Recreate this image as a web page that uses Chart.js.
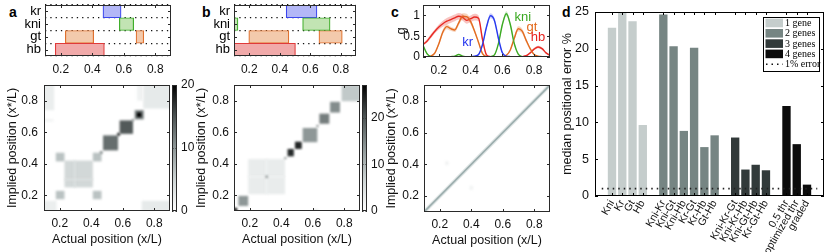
<!DOCTYPE html>
<html>
<head>
<meta charset="utf-8">
<script src="https://cdn.jsdelivr.net/npm/chart.js@4.4.0/dist/chart.umd.min.js"></script>
<style>
    body { margin: 0; background: #fff; }
    #fig { position: relative; width: 830px; height: 252px; overflow: hidden; }
    #fig canvas { position: absolute; left: 0; top: 0; }
    .lt { position: absolute; font: bold 14px "Liberation Sans", Arial, sans-serif; line-height: 16px; color: #000; }
</style>
</head>
<body>
<div id="fig">
    <div class="lt" style="left:9px;top:4px">a</div>
    <div class="lt" style="left:202px;top:4px">b</div>
    <div class="lt" style="left:391px;top:4px">c</div>
    <div class="lt" style="left:562px;top:4px">d</div>
</div>
<script>
// ---- data ----
const genes = ['kr', 'kni', 'gt', 'hb'];
const posTicks = [0.2, 0.4, 0.6, 0.8];

// expression domains [start, end] per gene (second segment where a gene has two)
const domainsA = [[0.468, 0.583], [0.572, 0.663], [0.229, 0.409], [0.165, 0.477]];
const domainsA2 = [null, null, [0.678, 0.727], null];
const domainsB = [[0.442, 0.644], [0.55, 0.73], [0.197, 0.46], [0.1, 0.503]];
const domainsB2 = [null, [0.1, 0.126], [0.657, 0.81], null];

// heat maps: [x0, x1, y0, y1, value]
const heatA = [
    [0.1, 0.165, 0.74, 0.9, 2], [0.73, 0.9, 0.75, 0.9, 2.5], [0.69, 0.73, 0.8, 0.9, 1.5],
    [0.1, 0.18, 0.1, 0.165, 2], [0.72, 0.9, 0.1, 0.165, 2.5], [0.1, 0.16, 0.668, 0.682, 1.5],
    [0.23, 0.41, 0.25, 0.42, 4.5], [0.29, 0.3, 0.25, 0.42, 3.3], [0.23, 0.41, 0.295, 0.305, 3.3],
    [0.175, 0.23, 0.415, 0.47, 6.5], [0.175, 0.23, 0.175, 0.228, 6.5],
    [0.41, 0.465, 0.415, 0.47, 6.5], [0.41, 0.465, 0.175, 0.228, 6.5],
    [0.455, 0.472, 0.463, 0.48, 11], [0.475, 0.57, 0.485, 0.58, 13],
    [0.565, 0.583, 0.578, 0.596, 18], [0.58, 0.665, 0.59, 0.675, 14.5],
    [0.66, 0.672, 0.672, 0.684, 12], [0.676, 0.733, 0.682, 0.74, 12], [0.69, 0.718, 0.697, 0.725, 20],
];
const heatB = [
    [0.1, 0.12, 0.1, 0.12, 27], [0.128, 0.19, 0.132, 0.196, 13.5],
    [0.19, 0.424, 0.207, 0.43, 3], [0.3, 0.312, 0.207, 0.43, 2], [0.19, 0.424, 0.31, 0.322, 2],
    [0.3, 0.315, 0.31, 0.325, 14], [0.42, 0.432, 0.43, 0.442, 16],
    [0.44, 0.48, 0.447, 0.494, 23.5], [0.487, 0.53, 0.494, 0.54, 24],
    [0.536, 0.629, 0.537, 0.627, 13.5], [0.624, 0.636, 0.634, 0.646, 17],
    [0.642, 0.705, 0.654, 0.718, 16], [0.71, 0.773, 0.725, 0.793, 14.5],
    [0.783, 0.9, 0.797, 0.9, 8], [0.61, 0.63, 0.1, 0.11, 5], [0.1, 0.106, 0.63, 0.65, 3],
];
const heatC = [[0.235, 0.255, 0.395, 0.42, 1.5], [0.39, 0.41, 0.24, 0.265, 1.5]];
const diagX = [0.1, 0.9];
const diagY = [0.1, 0.9];

// panel c: mean expression and spread along x/L
const cx = [0.1, 0.125, 0.15, 0.175, 0.2, 0.225, 0.25, 0.275, 0.3, 0.325, 0.35, 0.375, 0.4, 0.425, 0.45, 0.475, 0.5,
    0.525, 0.55, 0.575, 0.6, 0.625, 0.65, 0.675, 0.7, 0.725, 0.75, 0.775, 0.8, 0.825, 0.85, 0.875, 0.9];
const hbMean = [0.30, 0.38, 0.50, 0.62, 0.72, 0.80, 0.86, 0.90, 0.94, 0.98, 0.95, 0.88, 0.92, 0.96, 0.93, 0.42, 0.05,
    0.01, 0, 0, 0, 0, 0, 0, 0, 0.01, 0.03, 0.1, 0.19, 0.24, 0.2, 0.1, 0.04];
const hbErr = [0.03, 0.04, 0.05, 0.05, 0.06, 0.07, 0.08, 0.08, 0.08, 0.08, 0.08, 0.08, 0.08, 0.08, 0.07, 0.06, 0.02,
    0.01, 0, 0, 0, 0, 0, 0, 0, 0.01, 0.01, 0.02, 0.03, 0.03, 0.03, 0.02, 0.01];
const gtMean = [0, 0, 0.02, 0.1, 0.32, 0.6, 0.73, 0.68, 0.65, 0.82, 0.98, 0.97, 0.85, 0.62, 0.35, 0.08, 0.01,
    0, 0, 0, 0.01, 0.04, 0.17, 0.45, 0.68, 0.62, 0.4, 0.2, 0.06, 0.02, 0.01, 0, 0];
const gtErr = [0, 0, 0.01, 0.02, 0.04, 0.06, 0.06, 0.05, 0.05, 0.06, 0.07, 0.07, 0.06, 0.05, 0.04, 0.02, 0,
    0, 0, 0, 0, 0.01, 0.03, 0.05, 0.06, 0.06, 0.05, 0.03, 0.01, 0, 0, 0, 0];
const krMean = [0.01, 0.01, 0.01, 0.01, 0.01, 0.01, 0.01, 0.01, 0.01, 0.01, 0.01, 0.01, 0.01, 0.02, 0.06, 0.3, 0.72,
    0.99, 0.88, 0.45, 0.1, 0.02, 0.01, 0, 0, 0, 0, 0, 0, 0, 0, 0, 0];
const krErr = [0, 0, 0, 0, 0, 0, 0, 0, 0, 0, 0, 0, 0, 0, 0.01, 0.03, 0.05,
    0.06, 0.05, 0.04, 0.02, 0.01, 0, 0, 0, 0, 0, 0, 0, 0, 0, 0, 0];
const kniMean = [0.28, 0.08, 0.01, 0, 0, 0, 0, 0.01, 0.02, 0.06, 0.02, 0, 0, 0, 0, 0, 0,
    0.01, 0.05, 0.32, 0.78, 1.04, 0.78, 0.32, 0.07, 0.01, 0, 0, 0, 0, 0, 0, 0];
const kniErr = [0.03, 0.02, 0.01, 0, 0, 0, 0, 0, 0, 0, 0, 0, 0, 0, 0, 0, 0,
    0, 0.01, 0.03, 0.05, 0.06, 0.05, 0.03, 0.01, 0, 0, 0, 0, 0, 0, 0, 0];

// panel d: median positional error %
const oneNames = ['Kni', 'Kr', 'Gt', 'Hb'];
const oneVals = [22.8, 25.6, 23.7, 9.6];
const onePos = [1, 2, 3, 4];
const twoNames = ['Kni-Kr', 'Kni-Gt', 'Kni-Hb', 'Kr-Gt', 'Kr-Hb', 'Gt-Hb'];
const twoVals = [24.6, 20.3, 8.8, 20.1, 6.6, 8.2];
const twoPos = [6, 7, 8, 9, 10, 11];
const threeNames = ['Kni-Kr-Gt', 'Kni-Kr-Hb', 'Kni-Gt-Hb', 'Kr-Gt-Hb'];
const threeVals = [7.9, 3.55, 4.2, 3.45];
const threePos = [13, 14, 15, 16];
const fourNames = ['0.5 thr', 'optimized thr', 'graded'];
const fourVals = [12.2, 7.0, 1.5];
const fourPos = [18, 19, 20];
const groupLabels = ['1 gene', '2 genes', '3 genes', '4 genes'];
const errorLevel = 1;
const errorTicks = [0, 5, 10, 15, 20, 25];

// ---- helpers ----
const W = 830, H = 252;
const fig = document.getElementById('fig');

Chart.defaults.font.family = '"Liberation Sans", Arial, sans-serif';
Chart.defaults.font.size = 12;
Chart.defaults.color = '#111';
Chart.defaults.animation = false;
Chart.defaults.responsive = false;
Chart.defaults.plugins.legend.display = false;
Chart.defaults.plugins.tooltip.enabled = false;

function addCanvas() {
    let c = document.createElement('canvas');
    c.width = W;
    c.height = H;
    fig.appendChild(c);
    return c;
}

// layout padding so the chart area lands on box; l/t/r/b are the fixed axis sizes on each side
function pad(box, l, t, r, b) {
    return { left: box.x - l, top: box.y - t, right: W - box.x - box.w - r, bottom: H - box.y - box.h - b };
}

const fixed = list => s => { s.ticks = list.map(v => ({ value: v })); };

// fixed axis size, and no label overhang pushing the plot area around
const fitTo = (key, size) => s => {
    s[key] = size;
    s.paddingLeft = s.paddingRight = s.paddingTop = s.paddingBottom = 0;
};

const noGrid = { display: false, drawTicks: false };

const grayStops = [[0, [255, 255, 255]], [0.25, [205, 212, 212]], [0.5, [142, 151, 151]], [0.75, [76, 83, 83]], [1, [0, 0, 0]]];
function grayMap(t) {
    t = Math.max(0, Math.min(1, t));
    for (let i = 1; i < grayStops.length; i++) {
        let [t0, c0] = grayStops[i - 1], [t1, c1] = grayStops[i];
        if (t <= t1) {
            let f = (t - t0) / (t1 - t0);
            return `rgb(${c0.map((c, k) => Math.round(c + (c1[k] - c) * f)).join(',')})`;
        }
    }
    return '#000';
}

// box round the plot area with ticks pointing inwards
function boxFrame(len, color) {
    return {
        id: 'boxFrame',
        afterDraw(chart) {
            let { ctx, chartArea: a } = chart;
            ctx.save();
            ctx.strokeStyle = color || '#2a2a2a';
            ctx.lineWidth = 1;
            ctx.beginPath();
            ['x', 'y'].forEach(k => {
                let s = chart.scales[k];
                if (!s || !s.options.display) return;
                s.ticks.forEach((t, i) => {
                    let p = Math.round(s.getPixelForTick(i)) + 0.5;
                    if (k === 'x') {
                        ctx.moveTo(p, a.bottom); ctx.lineTo(p, a.bottom - len);
                        ctx.moveTo(p, a.top); ctx.lineTo(p, a.top + len);
                    } else {
                        ctx.moveTo(a.left, p); ctx.lineTo(a.left + len, p);
                        ctx.moveTo(a.right, p); ctx.lineTo(a.right - len, p);
                    }
                });
            });
            ctx.stroke();
            ctx.strokeRect(a.left + 0.5, a.top + 0.5, a.width - 1, a.height - 1);
            ctx.restore();
        }
    };
}

function heatCells(blocks, vmax) {
    return {
        id: 'heatCells',
        beforeDatasetsDraw(chart) {
            let { ctx, chartArea: a, scales: { x, y } } = chart;
            ctx.save();
            ctx.beginPath();
            ctx.rect(a.left, a.top, a.width, a.height);
            ctx.clip();
            ctx.filter = 'blur(0.9px)';
            blocks.forEach(b => {
                let x0 = x.getPixelForValue(b[0]), x1 = x.getPixelForValue(b[1]);
                let y0 = y.getPixelForValue(b[2]), y1 = y.getPixelForValue(b[3]);
                ctx.fillStyle = grayMap(b[4] / vmax);
                ctx.fillRect(x0, y1, x1 - x0, y0 - y1);
            });
            ctx.restore();
        }
    };
}

const gradientFill = {
    id: 'gradientFill',
    beforeDraw(chart) {
        let { ctx, chartArea: a } = chart;
        let g = ctx.createLinearGradient(0, a.bottom, 0, a.top);
        grayStops.forEach(s => g.addColorStop(s[0], `rgb(${s[1].join(',')})`));
        ctx.save();
        ctx.fillStyle = g;
        ctx.fillRect(a.left, a.top, a.width, a.height);
        ctx.restore();
    }
};

const geneFill = ['#b3b7f7', '#c2e4b3', '#f3caac', '#f1aaaa'];
const geneLine = ['#3b46ee', '#3fae2a', '#e0712e', '#e03a3a'];

function domainChart(box, l, dom1, dom2) {
    let ds = d => ({
        data: d, backgroundColor: geneFill, borderColor: geneLine, borderWidth: 1.2,
        borderSkipped: false, grouped: false, barPercentage: 1, categoryPercentage: 1,
    });
    new Chart(addCanvas(), {
        type: 'bar',
        data: { labels: genes, datasets: [ds(dom1), ds(dom2)] },
        options: {
            indexAxis: 'y',
            layout: { padding: pad(box, l, 0, 0, 22) },
            scales: {
                x: {
                    type: 'linear', min: 0.1, max: 0.9,
                    afterBuildTicks: fixed(posTicks), afterFit: fitTo('height', 22),
                    grid: noGrid, border: { display: false },
                    ticks: { padding: 6.5, callback: v => v.toFixed(1) },
                },
                y: {
                    afterFit: fitTo('width', l),
                    grid: { offset: true, color: '#111', lineWidth: 1.3, drawTicks: false },
                    border: { display: false, dash: [1.3, 4] },
                    ticks: { autoSkip: false, padding: 4, font: { size: 13 }, color: '#000' },
                },
            },
        },
        plugins: [boxFrame(3)],
    });
}

function heatChart(box, l, yPad, tickPad, blocks, vmax, datasets) {
    new Chart(addCanvas(), {
        type: 'scatter',
        data: { datasets: datasets || [] },
        options: {
            layout: { padding: pad(box, l, 0, 0, 41) },
            scales: {
                x: {
                    min: 0.1, max: 0.9, afterBuildTicks: fixed(posTicks), afterFit: fitTo('height', 41),
                    grid: noGrid, border: { display: false },
                    ticks: { padding: 5, callback: v => v.toFixed(1) },
                    title: { display: true, text: 'Actual position (x/L)', font: { size: 12.5 }, padding: { top: 0, bottom: 4.5 } },
                },
                y: {
                    min: 0.1, max: 0.9, afterBuildTicks: fixed(posTicks), afterFit: fitTo('width', l),
                    grid: noGrid, border: { display: false },
                    ticks: { padding: tickPad, callback: v => v.toFixed(1) },
                    title: { display: true, text: 'Implied position (x*/L)', font: { size: 12.5 }, padding: { top: yPad, bottom: 0 } },
                },
            },
        },
        plugins: [heatCells(blocks, vmax), boxFrame(3)],
    });
}

function colorbar(box, vmax) {
    new Chart(addCanvas(), {
        type: 'scatter',
        data: { datasets: [] },
        options: {
            layout: { padding: pad(box, 0, 0, 22, 0) },
            scales: {
                x: { display: false },
                y: {
                    position: 'right', min: 0, max: vmax,
                    afterBuildTicks: fixed([0, 10, 20]), afterFit: fitTo('width', 22),
                    grid: noGrid, border: { display: false },
                    ticks: { padding: 4 },
                },
            },
        },
        plugins: [gradientFill, boxFrame(1.5)],
    });
}

// ---- panels a, b ----
domainChart({ x: 45, y: 5, w: 126, h: 51 }, 45, domainsA, domainsA2);
heatChart({ x: 44, y: 85, w: 126, h: 126 }, 44, 5.5, 6, heatA, 20);
colorbar({ x: 172, y: 85, w: 5, h: 126 }, 20);

domainChart({ x: 234, y: 5, w: 122, h: 51 }, 44, domainsB, domainsB2);
heatChart({ x: 234, y: 85, w: 126, h: 126 }, 44, 4.5, 5, heatB, 27);
colorbar({ x: 362, y: 85, w: 5, h: 126 }, 27);

// ---- panel c ----
const cColors = { kr: '#2435ee', kni: '#3aa821', gt: '#e2681a', hb: '#e8231f' };
const cBand = { kr: 'rgba(60,80,240,0.28)', kni: 'rgba(70,180,50,0.28)', gt: 'rgba(230,120,50,0.3)', hb: 'rgba(232,60,50,0.3)' };
const cSeries = [['kr', krMean, krErr], ['kni', kniMean, kniErr], ['gt', gtMean, gtErr], ['hb', hbMean, hbErr]];
const pts = vals => vals.map((v, i) => ({ x: cx[i], y: v }));
let cSets = [];
cSeries.forEach(([g, m, e]) => {
    cSets.push({ data: pts(m.map((v, i) => v - e[i])), borderWidth: 0, pointRadius: 0, fill: false, cubicInterpolationMode: 'monotone' });
    cSets.push({ data: pts(m.map((v, i) => v + e[i])), borderWidth: 0, pointRadius: 0, fill: '-1', backgroundColor: cBand[g], cubicInterpolationMode: 'monotone' });
});
cSeries.forEach(([g, m]) => {
    cSets.push({ data: pts(m), borderColor: cColors[g], borderWidth: 1.4, pointRadius: 0, fill: false, cubicInterpolationMode: 'monotone' });
});
const cNames = [['kr', 0.381, 0.34], ['kni', 0.729, 0.94], ['gt', 0.786, 0.7], ['hb', 0.824, 0.46]];
const curveNames = {
    id: 'curveNames',
    afterDatasetsDraw(chart) {
        let { ctx, scales: { x, y } } = chart;
        ctx.save();
        ctx.font = '13px "Liberation Sans", Arial, sans-serif';
        ctx.textAlign = 'center';
        ctx.textBaseline = 'middle';
        cNames.forEach(([g, vx, vy]) => {
            ctx.fillStyle = cColors[g];
            ctx.fillText(g, x.getPixelForValue(vx), y.getPixelForValue(vy));
        });
        ctx.restore();
    }
};
const cTop = { x: 423, y: 5, w: 127, h: 52 };
new Chart(addCanvas(), {
    type: 'line',
    data: { datasets: cSets },
    options: {
        layout: { padding: pad(cTop, 32, 0, 0, 22) },
        plugins: { filler: { propagate: false } },
        scales: {
            x: {
                type: 'linear', min: 0.1, max: 0.9, afterBuildTicks: fixed(posTicks), afterFit: fitTo('height', 22),
                grid: noGrid, border: { display: false },
                ticks: { padding: 6, callback: v => v.toFixed(1) },
            },
            y: {
                min: 0, max: 1.25, afterBuildTicks: fixed([0, 0.5, 1]), afterFit: fitTo('width', 32),
                grid: noGrid, border: { display: false },
                ticks: { padding: 3, callback: v => String(v) },
                title: { display: true, text: 'g', font: { size: 13 }, padding: { top: 2.5, bottom: 0 } },
            },
        },
    },
    plugins: [curveNames, boxFrame(3)],
});

heatChart({ x: 424, y: 85, w: 126, h: 127 }, 44, 4.5, 5, heatC, 20, [
    { data: diagX.map((v, i) => ({ x: v, y: diagY[i] })), showLine: true, pointRadius: 0, borderColor: 'rgba(150,168,168,0.3)', borderWidth: 4 },
    { data: diagX.map((v, i) => ({ x: v, y: diagY[i] })), showLine: true, pointRadius: 0, borderColor: '#9fb0b0', borderWidth: 1.6 },
]);

// ---- panel d ----
const groupColors = ['#c5cdcc', '#768583', '#323a3a', '#0c0c0c'];
const groups = [[onePos, oneVals], [twoPos, twoVals], [threePos, threeVals], [fourPos, fourVals]];
const allPos = onePos.concat(twoPos, threePos, fourPos);
const allNames = oneNames.concat(twoNames, threeNames, fourNames);
const dBox = { x: 595, y: 12, w: 229, h: 184 };

const dLegend = {
    id: 'dLegend',
    afterDraw(chart) {
        let { ctx, chartArea: a } = chart;
        let lx = a.right - 61, ly = a.top + 5, lw = 56, lh = 54;
        ctx.save();
        ctx.fillStyle = '#fff';
        ctx.fillRect(lx, ly, lw, lh);
        ctx.strokeStyle = '#000';
        ctx.lineWidth = 1;
        ctx.strokeRect(lx + 0.5, ly + 0.5, lw, lh);
        ctx.font = '10px "Liberation Serif", "DejaVu Serif", serif';
        ctx.textBaseline = 'middle';
        let rows = groupLabels.concat(['1% error']);
        rows.forEach((t, i) => {
            let cy = ly + 6 + i * 10.3;
            if (i < groupLabels.length) {
                ctx.fillStyle = groupColors[i];
                ctx.fillRect(lx + 2.5, cy - 4.3, 17.5, 8.6);
            } else {
                ctx.strokeStyle = '#111';
                ctx.lineWidth = 1.5;
                ctx.setLineDash([1.5, 4]);
                ctx.beginPath();
                ctx.moveTo(lx + 3, cy); ctx.lineTo(lx + 20, cy);
                ctx.stroke();
                ctx.setLineDash([]);
            }
            ctx.fillStyle = '#000';
            ctx.fillText(t, lx + 22, cy + 0.5);
        });
        ctx.restore();
    }
};

let dSets = groups.map(([pos, vals], g) => ({
    type: 'bar',
    data: vals.map((v, i) => ({ x: pos[i], y: v })),
    backgroundColor: groupColors[g],
    barThickness: 7.7,
    grouped: false,
}));
dSets.push({
    type: 'line',
    data: [{ x: 0, y: errorLevel }, { x: 21, y: errorLevel }],
    borderColor: '#222', borderWidth: 1.6, borderDash: [1.5, 4], pointRadius: 0, order: -1,
});

new Chart(addCanvas(), {
    type: 'bar',
    data: { datasets: dSets },
    options: {
        layout: { padding: pad(dBox, 40, 0, 0, 56) },
        scales: {
            x: {
                type: 'linear', min: 0, max: 21, afterBuildTicks: fixed(allPos), afterFit: fitTo('height', 56),
                grid: noGrid, border: { display: false },
                ticks: {
                    autoSkip: false, minRotation: 60, maxRotation: 60, padding: 2,
                    font: { size: 10.5 }, callback: v => allNames[allPos.indexOf(v)],
                },
            },
            y: {
                min: 0, max: 25, afterBuildTicks: fixed(errorTicks), afterFit: fitTo('width', 40),
                grid: noGrid, border: { display: false },
                ticks: { padding: 6, font: { size: 12.5 } },
                title: { display: true, text: 'median positional error %', font: { size: 12.5 }, padding: { top: 5.5, bottom: 0 } },
            },
        },
    },
    plugins: [boxFrame(3, '#000'), dLegend],
});
</script>
</body>
</html>
